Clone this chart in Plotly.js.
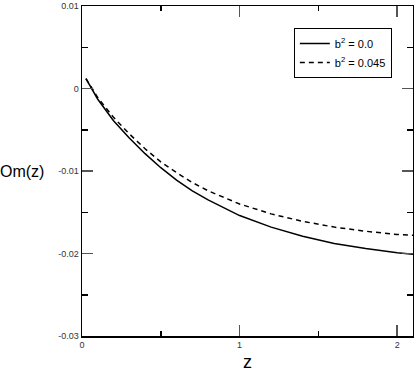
<!DOCTYPE html>
<html>
<head>
<meta charset="utf-8">
<script src="https://cdn.plot.ly/plotly-3.0.1.min.js"></script>
<style>
  body { margin: 0; background: #fff; }
  #plot { width: 414px; height: 373px; }
</style>
</head>
<body>
<div id="plot"></div>
<script>
// values
const z = [0.025, 0.1, 0.2, 0.3, 0.4, 0.5, 0.6, 0.7, 0.8, 0.9, 1.0, 1.2, 1.4, 1.6, 1.8, 2.0, 2.1];
const omB0 = [0.0012, -0.0013, -0.0039, -0.0060, -0.0079, -0.0096, -0.0111, -0.0124, -0.0135, -0.0145, -0.0154, -0.0168, -0.0179, -0.0188, -0.0194, -0.0199, -0.0201];
const omB045 = [0.0012, -0.0011, -0.0035, -0.0055, -0.0073, -0.0089, -0.0102, -0.0114, -0.0124, -0.0132, -0.0140, -0.0152, -0.0161, -0.0168, -0.0173, -0.0177, -0.0178];

const yTickVals = [0.01, 0, -0.01, -0.02, -0.03];
const yTickText = ['0.01', '0', '-0.01', '-0.02', '-0.03'];
const xTickVals = [0, 1, 2];
const xTickText = ['0', '1', '2'];

const traces = [
  {
    x: z, y: omB0, type: 'scatter', mode: 'lines',
    name: 'b<sup>2</sup> = 0.0',
    line: { color: '#000', width: 1.5 }
  },
  {
    x: z, y: omB045, type: 'scatter', mode: 'lines',
    name: 'b<sup>2</sup> = 0.045',
    line: { color: '#000', width: 1.5, dash: '5px,4px' }
  }
];

const axisCommon = {
  showgrid: false,
  zeroline: false,
  showline: true,
  linecolor: '#000',
  linewidth: 1.5,
  mirror: 'allticks',
  ticks: 'inside',
  ticklen: 11,
  tickwidth: 1.5,
  tickcolor: '#555',
  tickfont: { family: 'Liberation Sans, Arial, sans-serif', size: 9, color: '#333' }
};

const layout = {
  width: 414,
  height: 373,
  margin: { l: 82, r: 1, t: 6, b: 37 },
  paper_bgcolor: '#fff',
  plot_bgcolor: '#fff',
  font: { family: 'Liberation Sans, Arial, sans-serif', color: '#000' },
  xaxis: Object.assign({}, axisCommon, {
    range: [0, 2.1],
    tickvals: xTickVals,
    ticktext: xTickText,
    minor: { dtick: 0.5, tick0: 0, ticks: 'inside', ticklen: 5, tickwidth: 1.5, tickcolor: '#000' },
    title: { text: 'z', font: { size: 18 }, standoff: 6 }
  }),
  yaxis: Object.assign({}, axisCommon, {
    range: [-0.03, 0.01],
    tickvals: yTickVals,
    ticktext: yTickText,
    minor: { dtick: 0.005, tick0: 0, ticks: 'inside', ticklen: 6, tickwidth: 1.5, tickcolor: '#000' }
  }),
  annotations: [{
    text: 'Om(z)', xref: 'paper', yref: 'paper',
    x: -0.181, y: 0.5, xanchor: 'center', yanchor: 'middle',
    showarrow: false, font: { size: 16, color: '#000' }
  }],
  legend: {
    x: 0.64, y: 0.933, xanchor: 'left', yanchor: 'top',
    bgcolor: '#fff', bordercolor: '#000', borderwidth: 1,
    font: { size: 11, color: '#000' },
    tracegroupgap: 0
  },
  showlegend: true
};

Plotly.newPlot('plot', traces, layout, { displayModeBar: false, staticPlot: true });
</script>
</body>
</html>
